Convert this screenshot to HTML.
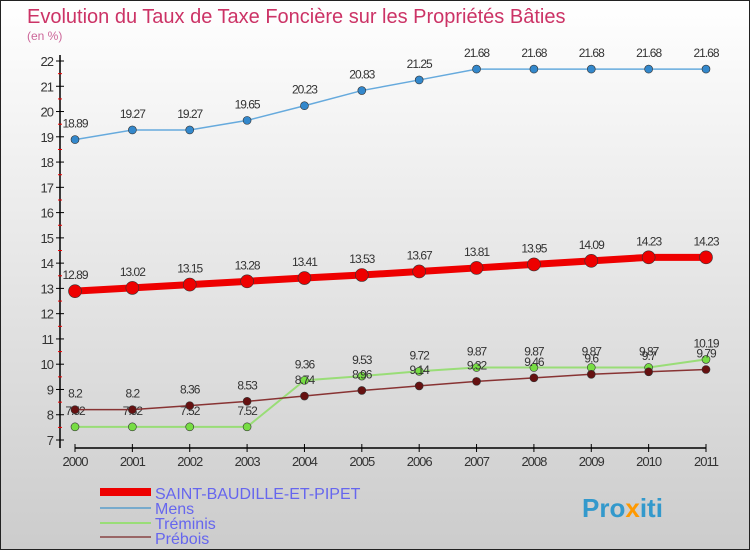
<!DOCTYPE html>
<html><head><meta charset="utf-8"><style>
body{margin:0}
#c{position:relative;width:750px;height:550px;overflow:hidden}
svg{font-family:"Liberation Sans",sans-serif}
</style></head><body>
<div id="c">
<svg id="s" width="750" height="550" xmlns="http://www.w3.org/2000/svg">
<defs><linearGradient id="bg" x1="0" y1="0" x2="0" y2="1"><stop offset="0" stop-color="#ffffff"/><stop offset="1" stop-color="#cccccc"/></linearGradient></defs>
<rect x="0.5" y="0.5" width="749" height="549" fill="url(#bg)" stroke="#222"/>
<text x="27" y="23" font-size="20" fill="#cc3366">Evolution du Taux de Taxe Foncière sur les Propriétés Bâties</text>
<text x="27" y="40" font-size="12" fill="#cc6699">(en %)</text>
<g id="axes"></g><g id="series"></g>
<g>
<line x1="100" y1="492" x2="151" y2="492" stroke="#ee0000" stroke-width="8"/>
<text x="155" y="499" font-size="16" fill="#6666ee">SAINT-BAUDILLE-ET-PIPET</text>
<line x1="100" y1="508" x2="151" y2="508" stroke="#77aacc" stroke-width="2"/>
<text x="155" y="514" font-size="16" fill="#6666ee">Mens</text>
<line x1="100" y1="523" x2="151" y2="523" stroke="#99dd77" stroke-width="2"/>
<text x="155" y="529" font-size="16" fill="#6666ee">Tréminis</text>
<line x1="100" y1="537" x2="151" y2="537" stroke="#996666" stroke-width="2"/>
<text x="155" y="544" font-size="16" fill="#6666ee">Prébois</text>
</g>
<text x="582" y="517" font-size="26" font-weight="bold" fill="#3399cc">Pro<tspan fill="#ff9900">x</tspan>iti</text>
</svg></div>
<script>
const years=["2000","2001","2002","2003","2004","2005","2006","2007","2008","2009","2010","2011"];
const yTicks=[7,8,9,10,11,12,13,14,15,16,17,18,19,20,21,22];
const saint=[12.89,13.02,13.15,13.28,13.41,13.53,13.67,13.81,13.95,14.09,14.23,14.23];
const mens=[18.89,19.27,19.27,19.65,20.23,20.83,21.25,21.68,21.68,21.68,21.68,21.68];
const treminis=[7.52,7.52,7.52,7.52,9.36,9.53,9.72,9.87,9.87,9.87,9.87,10.19];
const prebois=[8.2,8.2,8.36,8.53,8.74,8.96,9.14,9.32,9.46,9.6,9.7,9.79];
const NS="http://www.w3.org/2000/svg";
function X(i){return 75+i*(706-75)/(years.length-1);}
function Y(v){return 61+(22-v)*(440-61)/15;}
function mk(t,a,p){const e=document.createElementNS(NS,t);for(const k in a)e.setAttribute(k,a[k]);p.appendChild(e);return e;}
const ax=document.getElementById('axes');
let l=mk('line',{x1:60,y1:55,x2:60,y2:448,stroke:'#000','stroke-width':1.5},ax);


l=mk('line',{x1:75,y1:448,x2:706,y2:448,stroke:'#000','stroke-width':1.5},ax);


yTicks.forEach(v=>{
 const y=Y(v);
 mk('line',{x1:56,y1:y,x2:64,y2:y,stroke:'#000'},ax);
 if(v<22)mk('line',{x1:58,y1:y-12.6,x2:62,y2:y-12.6,stroke:'#e00'},ax);
 const t=mk('text',{x:53,y:y+5,'font-size':13,'text-anchor':'end',fill:'#333','letter-spacing':'-1'},ax);
 t.textContent=v;
 
 
});
years.forEach((yr,i)=>{
 mk('line',{x1:X(i),y1:444,x2:X(i),y2:452,stroke:'#000'},ax);
 const t=mk('text',{x:X(i),y:466,'font-size':13,'text-anchor':'middle',fill:'#333','letter-spacing':'-1'},ax);
 t.textContent=yr;
 
 
});
const sg=document.getElementById('series');
function draw(vals,name,stroke,w,fill,r,labelSize){
 const g=mk('g',{},sg);
 
 
 mk('polyline',{points:vals.map((v,i)=>X(i)+','+Y(v)).join(' '),fill:'none',stroke:stroke,'stroke-width':w},g);
 vals.forEach((v,i)=>{
  const c=mk('circle',{cx:X(i),cy:Y(v),r:r,fill:fill,stroke:'#333','stroke-width':0.6},g);
  
  
  const t=mk('text',{x:X(i),y:Y(v)-12,'font-size':labelSize,'text-anchor':'middle',fill:'#333','letter-spacing':'-1'},g);
  t.textContent=v;
  
  
 });
}
draw(mens,'mens','#66aadd',1.5,'#3388cc',4,12);
draw(treminis,'treminis','#99dd77',2,'#77dd44',4,12);
draw(prebois,'prebois','#883333',1.5,'#661111',4,12);
draw(saint,'saint-baudille','#ee0000',7,'#ee0000',6.5,12);
</script>
</body></html>
